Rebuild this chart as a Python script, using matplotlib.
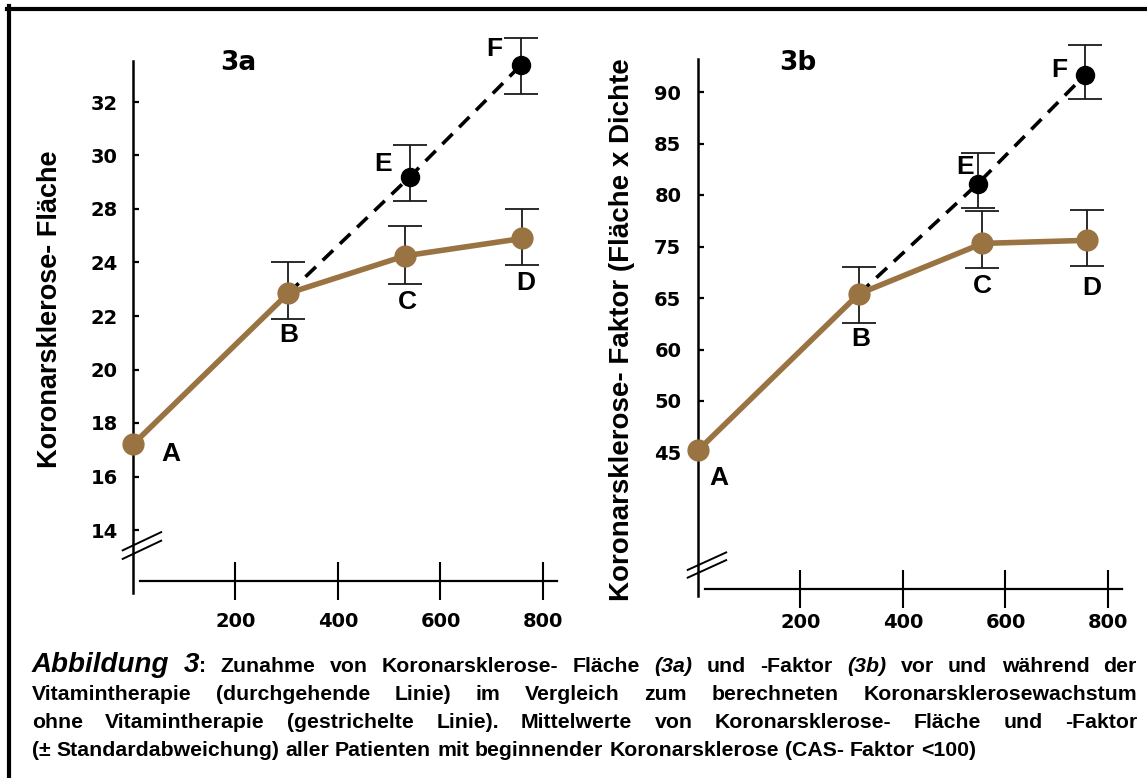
import numpy as np
import matplotlib.pyplot as plt
from matplotlib.lines import Line2D
from matplotlib import font_manager

plt.rcParams['font.family'] = ['Liberation Sans', 'DejaVu Sans']
plt.rcParams['font.weight'] = 'bold'

W, H = 1147, 778

# ---------------- data ----------------
x_ticks = [200, 400, 600, 800]
names = ['A', 'B', 'C', 'D']
proj_names = ['E', 'F']

# 3a  Koronarsklerose-Flaeche (y axis is not linear: 26 is left out)
a_ticks = [14, 16, 18, 20, 22, 24, 28, 30, 32]
a_x = [0, 303, 531, 760]
a_y = [17.2, 22.85, 24.5, 25.8]
a_lo = [21.9, 23.2, 23.9]        # error bars of B, C, D
a_hi = [24.0, 26.7, 28.0]
a_px = [540, 758]                # E, F (without vitamins)
a_py = [29.2, 33.4]
a_plo = [28.3, 32.3]
a_phi = [30.4, 34.4]

# 3b  Koronarsklerose-Faktor
b_ticks = [45, 50, 60, 65, 75, 80, 85, 90]
b_x = [0, 314, 555, 759]
b_y = [45.2, 65.8, 75.3, 75.6]
b_lo = [62.6, 70.8, 71.3]
b_hi = [71.0, 78.4, 78.5]
b_px = [546, 755]
b_py = [81.1, 91.65]
b_plo = [78.7, 89.3]
b_phi = [84.1, 94.6]

caption = [
    [("Abbildung 3", 'head'), (": Zunahme von Koronarsklerose- Fläche ", 'body'),
     ("(3a)", 'ital'), (" und -Faktor ", 'body'), ("(3b)", 'ital'),
     (" vor und während der", 'body')],
    [("Vitamintherapie (durchgehende Linie) im Vergleich zum berechneten Koronarsklerosewachstum", 'body')],
    [("ohne Vitamintherapie (gestrichelte Linie). Mittelwerte von Koronarsklerose- Fläche und -Faktor", 'body')],
    [("(± Standardabweichung) aller Patienten mit beginnender Koronarsklerose (CAS- Faktor <100)", 'body')],
]

BROWN = '#9a7343'
WIDE = 'DejaVu Sans'   # tick numbers and panel titles are a broad face
installed = {f.name for f in font_manager.fontManager.ttflist}
if 'Liberation Sans Narrow' in installed:
    letter_font = dict(family='Liberation Sans Narrow', fontsize=21.5)
else:
    letter_font = dict(family='Liberation Sans', fontsize=19)


def fx(px):
    return px / W


def fy(py):
    return 1 - py / H


def tick_scale(ticks):
    # equal spacing between the printed tick values
    t = np.asarray(ticks, float)
    k = np.arange(len(t), dtype=float)
    s0 = t[1] - t[0]
    s1 = t[-1] - t[-2]

    def fwd(v):
        v = np.asarray(v, float)
        out = np.interp(v, t, k)
        out = np.where(v < t[0], (v - t[0]) / s0, out)
        out = np.where(v > t[-1], k[-1] + (v - t[-1]) / s1, out)
        return out

    def inv(p):
        p = np.asarray(p, float)
        out = np.interp(p, k, t)
        out = np.where(p < 0, t[0] + p * s0, out)
        out = np.where(p > k[-1], t[-1] + (p - k[-1]) * s1, out)
        return out
    return fwd, inv


fig = plt.figure(figsize=(W / 100, H / 100), dpi=100)

# frame (top and left only)
fig.add_artist(Line2D([fx(9), fx(9)], [fy(6), fy(H)], lw=3, color='black'))
fig.add_artist(Line2D([fx(7), 1], [fy(8.5), fy(8.5)], lw=3, color='black'))


def panel(rect, ylim_idx, ticks, x, y, lo, hi, px, py, plo, phi,
          spine_idx, xaxis_idx, break_idx, xpad, ylpad, label_off, proj_off):
    l, t, r, b = rect
    ax = fig.add_axes([fx(l), fy(b), fx(r - l), (b - t) / H])
    fwd, inv = tick_scale(ticks)
    ax.set_yscale('function', functions=(fwd, inv))
    ax.set_xlim(-30, 840)
    ax.set_ylim(float(inv(ylim_idx[0])), float(inv(ylim_idx[1])))

    for s in ['top', 'right']:
        ax.spines[s].set_visible(False)
    ax.spines['left'].set_position(('data', 0))
    ax.spines['left'].set_bounds(float(inv(spine_idx[0])), float(inv(spine_idx[1])))
    ax.spines['left'].set_linewidth(1.8)
    ax.spines['bottom'].set_position(('data', float(inv(xaxis_idx))))
    ax.spines['bottom'].set_bounds(14, 827)
    ax.spines['bottom'].set_linewidth(1.6)

    ax.set_xticks(x_ticks, labels=[str(v) for v in x_ticks], family=WIDE)
    ax.set_yticks(ticks, labels=[str(v) for v in ticks], family=WIDE)
    ax.tick_params(axis='x', direction='inout', length=27, width=1.5,
                   labelsize=14, pad=xpad)
    ax.tick_params(axis='y', direction='in', length=4.5, width=1.6,
                   labelsize=14, pad=ylpad)

    # axis break
    for bi in break_idx:
        ys = inv([bi - 0.17, bi + 0.17])
        ax.plot([-20, 55], ys, color='black', lw=1.4, clip_on=False)

    # error bars
    ax.errorbar(x[1:], y[1:], yerr=[np.subtract(y[1:], lo), np.subtract(hi, y[1:])],
                fmt='none', ecolor='#1a1a1a', elinewidth=1.3, capsize=12,
                capthick=1.3, zorder=2)
    ax.errorbar(px, py, yerr=[np.subtract(py, plo), np.subtract(phi, py)],
                fmt='none', ecolor='#1a1a1a', elinewidth=1.3, capsize=12,
                capthick=1.3, zorder=2)

    # projected growth (dashed) from B
    ax.plot([x[1]] + px, [y[1]] + py, color='black', lw=2.6,
            dashes=(4, 2.6), zorder=2.5)
    ax.plot(px, py, 'o', color='black', ms=13, zorder=4)
    ax.plot(x, y, '-o', color=BROWN, lw=4, ms=15, zorder=3)

    for n, xx, yy, off in zip(names, x, y, label_off):
        ax.annotate(n, (xx, yy), xytext=off, textcoords='offset points',
                    ha='center', va='center', **letter_font)
    for n, xx, yy, off in zip(proj_names, px, py, proj_off):
        ax.annotate(n, (xx, yy), xytext=off, textcoords='offset points',
                    ha='center', va='center', **letter_font)
    return ax


panel((117.6, 21.75, 563.5, 647.7), (-2.2, 9.5), a_ticks,
      a_x, a_y, a_lo, a_hi, a_px, a_py, a_plo, a_phi,
      spine_idx=(-1.18, 8.77), xaxis_idx=-0.95, break_idx=(-0.21, -0.37),
      xpad=9, ylpad=11,
      label_off=[(27, -7), (0, -30), (1.5, -33), (2.5, -32)],
      proj_off=[(-19, 9.5), (-19.5, 11.5)])

panel((682.6, 14.75, 1128.5, 617.3), (-3.2, 8.5), b_ticks,
      b_x, b_y, b_lo, b_hi, b_px, b_py, b_plo, b_phi,
      spine_idx=(-2.79, 7.65), xaxis_idx=-2.65, break_idx=(-2.11, -2.26),
      xpad=4, ylpad=12,
      label_off=[(15, -19.5), (1.5, -32.5), (0, -31), (3.5, -34)],
      proj_off=[(-9, 12), (-18.5, 3.5)])

fig.text(fx(238), fy(63), '3a', fontsize=19, family=WIDE, ha='center', va='center')
fig.text(fx(798), fy(63), '3b', fontsize=19, family=WIDE, ha='center', va='center')
fig.text(fx(50), fy(309), 'Koronarsklerose- Fläche', rotation=90,
         fontsize=19.5, ha='center', va='center')
fig.text(fx(622), fy(330), 'Koronarsklerose- Faktor (Fläche x Dichte', rotation=90,
         fontsize=20, ha='center', va='center')

# caption, justified like the printed original
styles = {'head': dict(fontsize=20, style='italic'),
          'body': dict(fontsize=15.3),
          'ital': dict(fontsize=15.3, style='italic')}
x0, x1 = 32, 1137
baselines = [672, 700, 728, 756]
renderer = fig.canvas.get_renderer()

for li, segs in enumerate(caption):
    words = []
    new_word = True
    for txt, st in segs:
        for i, part in enumerate(txt.split(' ')):
            if i > 0:
                new_word = True
            if part == '':
                continue
            if new_word:
                words.append([(part, st)])
                new_word = False
            else:
                words[-1].append((part, st))
    rows = []
    for word in words:
        row = []
        for txt, st in word:
            t = fig.text(0, fy(baselines[li]), txt, ha='left', va='baseline', **styles[st])
            row.append((t, t.get_window_extent(renderer).width))
        rows.append(row)
    total = sum(w for row in rows for _, w in row)
    if li < len(caption) - 1:
        gap = (x1 - x0 - total) / (len(rows) - 1)
    else:
        gap = 0.278 * 15.3 * 100 / 72
    xpos = x0
    for row in rows:
        for t, w in row:
            t.set_x(fx(xpos))
            xpos += w
        xpos += gap

fig.savefig('out.png', dpi=100)
